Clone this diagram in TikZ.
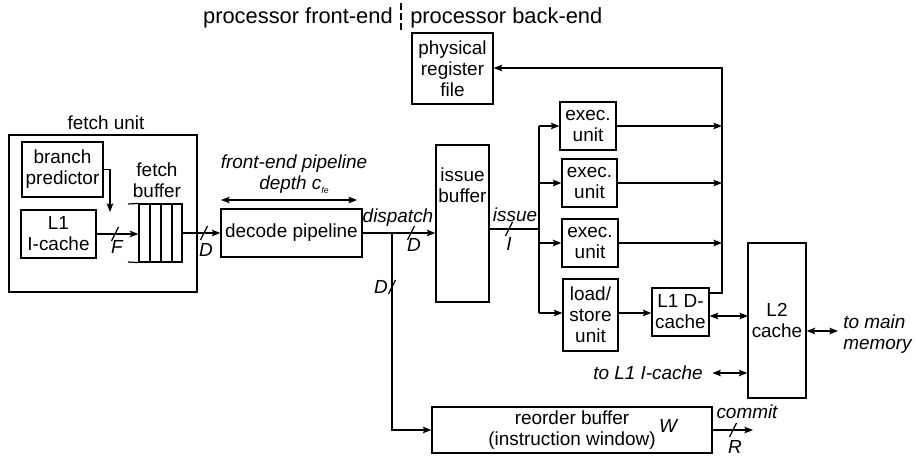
\documentclass[tikz,border=0pt]{standalone}
\usepackage{fontspec}
\setmainfont{Liberation Sans}
\usetikzlibrary{arrows.meta}
\newcommand\diagfont{\fontsize{14.2}{15.8}\selectfont}
\newcommand\headfont{\fontsize{16.4}{18}\selectfont}
\begin{document}
\begin{tikzpicture}[x=0.75pt,y=-0.75pt,
  ln/.style={line width=0.9pt},
  box/.style={draw, ln, inner sep=0pt, align=center, font=\diagfont},
  rect/.style n args={4}{minimum width={(#3-#1)*0.75pt}, minimum height={(#4-#2)*0.75pt},
    at={({(#1+#3)/2},{(#2+#4)/2})}},
  tip/.tip={Stealth[length=6.5pt,width=5pt,inset=1.4pt]},
  arr/.style={ln, -tip},
  darr/.style={ln, tip-tip},
  txt/.style={inner sep=0pt, align=center, font=\diagfont},
  lab/.style={inner sep=0pt, align=center, font=\diagfont\itshape},
  bus/.pic={\draw[line width=0.9pt] (-3.5,7) -- (3.5,-7);}]
\useasboundingbox (0,0) rectangle (916,459);

% front-end / back-end split
\node[txt, font=\headfont, anchor=east] (fehead) at (393,18) {processor front-end};
\node[txt, font=\headfont, anchor=west] (behead) at (410,18) {processor back-end};
\draw[ln, dash pattern=on 5pt off 2.5pt] (401,3) -- (401,31);

% fetch unit
\node[box, rect={9}{135}{197}{292}] (fu) {};
\node[txt] (fulab) at (106,123) {fetch unit};
\node[box, rect={22}{142}{103}{197}] (bp) {branch\\predictor};
\node[box, rect={21}{210}{96}{258}] (l1i) {L1\\I-cache};
\node[draw, ln, inner sep=0pt, rect={139}{204}{182}{262}] (fb) {};
\draw[ln] (128,204) -- (fb.north west);
\draw[ln] (128,262) -- (fb.south west);
\foreach \xx in {150,161,172} \draw[ln] (\xx,204) -- (\xx,262);
\node[txt] (fblab) at (157,180) {fetch\\buffer};

\coordinate (bpdrop) at (110,212);
\draw[arr] (bp.east) -| (bpdrop);
\draw[arr] (l1i.east) -- (l1i.east -| fb.west);
\pic at (115,234) {bus};
\node[lab] (flab) at (117,247) {F};

% decode
\node[box, rect={221}{209}{362}{257}] (dec) {decode pipeline};
\draw[arr] (fb.east) -- (fb.east -| dec.west);
\pic at (204,233) {bus};
\node[lab] (d1lab) at (206,250) {D};

\coordinate (depthL) at (221,200);
\coordinate (depthR) at (357,200);
\draw[darr] (depthL) -- (depthR);
\node[lab] (depthlab) at (294,174) {front-end pipeline\\depth c\raisebox{-0.45ex}{\fontsize{6.5}{7}\selectfont fe}};

% issue buffer and dispatch
\node[box, rect={436}{145}{489}{302}] (ib) {};
\node[txt] (iblab) at (462.5,185) {issue\\buffer};
\draw[arr] (dec.east) -- (dec.east -| ib.west);
\node[lab, anchor=base] (displab) at (398,223) {dispatch};
\pic at (411,233) {bus};
\node[lab] (d2lab) at (414,245) {D};

% reorder buffer
\node[box, rect={432}{407}{712}{453}] (rob) {reorder buffer\\(instruction window)};
\node[lab] (wlab) at (668,426) {W};
\coordinate (split) at (392,233);
\draw[arr] (split) |- (rob.west);
\pic at (392,287) {bus};
\node[lab] (d3lab) at (381,287) {D};

\coordinate (commitend) at (753,430);
\draw[arr] (rob.east) -- (commitend);
\node[lab, anchor=base] (commitlab) at (747,418) {commit};
\pic at (733,430) {bus};
\node[lab] (rlab) at (735,447) {R};

% issue and execution units
\node[box, rect={560}{102}{616}{150}] (ex1) {exec.\\unit};
\node[box, rect={562}{159}{617}{207}] (ex2) {exec.\\unit};
\node[box, rect={562}{219}{618}{267}] (ex3) {exec.\\unit};
\node[box, rect={563}{279}{618}{351}] (ls) {load/\\store\\unit};
\node[box, rect={652}{288}{709}{336}] (l1d) {L1 D-\\cache};
\node[box, rect={748}{243}{806}{398}] (l2) {L2\\cache};
\node[box, rect={412}{33}{493}{104}] (prf) {physical\\register\\file};

\coordinate (issuerow) at (539,229);
\coordinate (fanA) at (539,126);
\coordinate (fanB) at (539,183);
\coordinate (fanC) at (539,243);
\coordinate (fanD) at (539,313);
\draw[ln] (ib.east |- issuerow) -- (issuerow);
\draw[ln] (fanA) -- (fanD);
\node[lab, anchor=base] (issuelab) at (515,222) {issue};
\pic at (509,229) {bus};
\node[lab] (ilab) at (509,244) {I};

\draw[arr] (fanA) -- (fanA -| ex1.west);
\draw[arr] (fanB) -- (fanB -| ex2.west);
\draw[arr] (fanC) -- (fanC -| ex3.west);
\draw[arr] (fanD) -- (fanD -| ls.west);
\draw[arr] (ls.east |- fanD) -- (l1d.west |- fanD);

% results back to the register file
\coordinate (colTop) at (722,68);
\coordinate (colBot) at (722,293);
\draw[arr] (l1d.east |- colBot) -| (colTop) -- (colTop -| prf.east);
\draw[arr] (ex1.east |- fanA) -- (fanA -| colTop);
\draw[arr] (ex2.east |- fanB) -- (fanB -| colTop);
\draw[arr] (ex3.east |- fanC) -- (fanC -| colTop);

% memory hierarchy
\coordinate (l2row) at (748,316);
\draw[darr] (l1d.east |- l2row) -- (l2row);
\coordinate (mainmem) at (838,331);
\draw[darr] (l2.east |- mainmem) -- (mainmem);
\node[lab, align=left, anchor=west] (mainlab) at (843,334) {to main\\memory};
\node[lab, anchor=east] (l1ilab) at (703,373) {to L1 I-cache};
\draw[darr] ([xshift=7pt]l1ilab.east) -- (l1ilab.east -| l2.west);
\end{tikzpicture}
\end{document}
